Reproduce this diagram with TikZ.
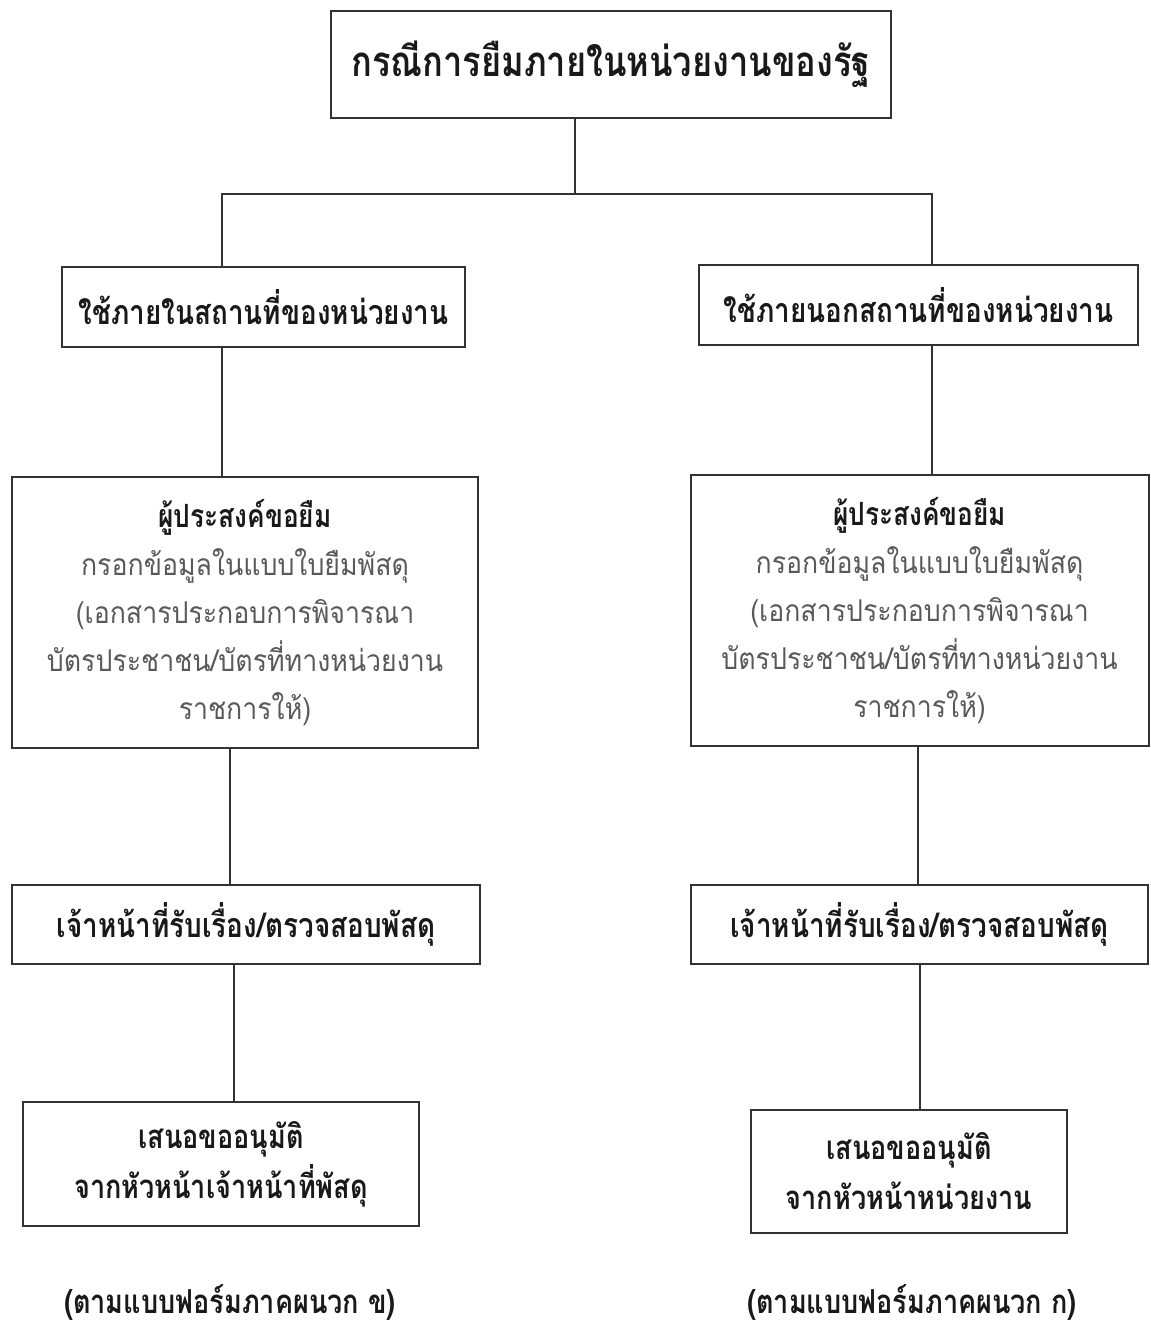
\documentclass[tikz,border=0pt]{standalone}
\usepackage{fontspec}
\newfontfamily\thaifont[Script=Thai,BoldFeatures={FakeStretch=0.82}]{Loma}
\newfontfamily\thainarrow[Script=Thai,FakeStretch=0.89]{Loma}

\tikzstyle{link}=[draw=black!80,line width=1pt]
\tikzstyle{box}=[
  draw=black!80,
  line width=1pt,
  rectangle,
  align=center,
  anchor=center,
  inner sep=0pt,
]
\tikzstyle{title}=[
  box,
  text=black!90,
  font=\thaifont\bfseries\fontsize{21pt}{26pt}\selectfont,
]
\tikzstyle{place}=[
  box,
  text=black!90,
  font=\thaifont\bfseries\fontsize{17pt}{22pt}\selectfont,
]
\tikzstyle{form}=[
  box,
  text=black!65,
  font=\thainarrow\fontsize{15pt}{24pt}\selectfont,
]
\tikzstyle{approve}=[
  box,
  text=black!90,
  font=\thaifont\bfseries\fontsize{16.5pt}{25pt}\selectfont,
]
\tikzstyle{note}=[
  text=black!90,
  anchor=center,
  font=\thaifont\bfseries\fontsize{16.5pt}{22pt}\selectfont,
]
\newcommand{\asker}{{\thaifont\bfseries\fontsize{16pt}{24pt}\selectfont\color{black!90}ผู้ประสงค์ขอยืม}}

\begin{document}
\begin{tikzpicture}[x=0.5pt,y=-0.5pt]
  \useasboundingbox (0,0) rectangle (1151,1329);

  \node[title,minimum width=280pt,minimum height=53.5pt] (top) at (611,64.5) {กรณีการยืมภายในหน่วยงานของรัฐ};

  \node[place,minimum width=201.5pt,minimum height=40pt] (inside) at (263.5,307) {ใช้ภายในสถานที่ของหน่วยงาน};
  \node[place,minimum width=219.5pt,minimum height=40pt] (outside) at (918.5,305) {ใช้ภายนอกสถานที่ของหน่วยงาน};

  \node[form,minimum width=233pt,minimum height=135.5pt] (inform) at (245,612.5) {\asker\\กรอกข้อมูลในแบบใบยืมพัสดุ\\(เอกสารประกอบการพิจารณา\\บัตรประชาชน/บัตรที่ทางหน่วยงาน\\ราชการให้)};
  \node[form,minimum width=229pt,minimum height=135.5pt] (outform) at (919.5,610.5) {\asker\\กรอกข้อมูลในแบบใบยืมพัสดุ\\(เอกสารประกอบการพิจารณา\\บัตรประชาชน/บัตรที่ทางหน่วยงาน\\ราชการให้)};

  \node[place,minimum width=234pt,minimum height=39.5pt] (incheck) at (246,924.5) {เจ้าหน้าที่รับเรื่อง/ตรวจสอบพัสดุ};
  \node[place,minimum width=228.5pt,minimum height=39.5pt] (outcheck) at (919.5,924.5) {เจ้าหน้าที่รับเรื่อง/ตรวจสอบพัสดุ};

  \node[approve,minimum width=198pt,minimum height=62pt] (inapprove) at (221,1164) {เสนอขออนุมัติ\\จากหัวหน้าเจ้าหน้าที่พัสดุ};
  \node[approve,minimum width=158pt,minimum height=61.5pt] (outapprove) at (909,1171.5) {เสนอขออนุมัติ\\จากหัวหน้าหน่วยงาน};

  \node[note] (innote) at (230,1302) {(ตามแบบฟอร์มภาคผนวก ข)};
  \node[note] (outnote) at (912,1302) {(ตามแบบฟอร์มภาคผนวก ก)};

  \coordinate (split) at (575,194);
  \coordinate (lA) at (222,0);
  \coordinate (lB) at (230,0);
  \coordinate (lC) at (234,0);
  \coordinate (rA) at (932,0);
  \coordinate (rB) at (918,0);
  \coordinate (rC) at (920,0);

  \draw[link] (top.south -| split) -- (split);
  \draw[link] (inside.north -| lA) |- (split) -| (outside.north -| rA);
  \draw[link] (inside.south -| lA) -- (inform.north -| lA);
  \draw[link] (outside.south -| rA) -- (outform.north -| rA);
  \draw[link] (inform.south -| lB) -- (incheck.north -| lB);
  \draw[link] (outform.south -| rB) -- (outcheck.north -| rB);
  \draw[link] (incheck.south -| lC) -- (inapprove.north -| lC);
  \draw[link] (outcheck.south -| rC) -- (outapprove.north -| rC);
\end{tikzpicture}
\end{document}
